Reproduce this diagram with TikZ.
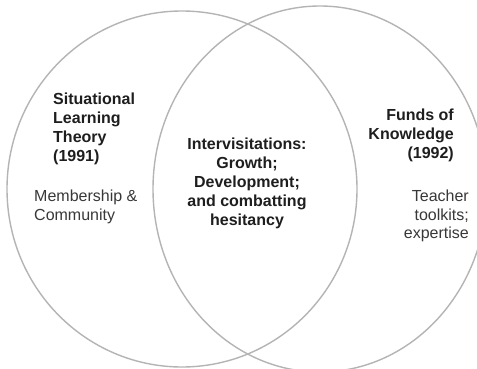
\documentclass[tikz,border=0pt]{standalone}
\usepackage{fontspec}
\setmainfont{Liberation Sans}
\definecolor{ringgray}{HTML}{B4B4B4}
\definecolor{boldtext}{HTML}{1E1E1E}
\definecolor{plaintext}{HTML}{383838}
\begin{document}
\begin{tikzpicture}[x=1pt,y=-1pt,
  ring/.style={draw=ringgray,line width=1.4pt},
  headtext/.style={inner sep=0pt,text=boldtext,font=\fontsize{16}{19}\selectfont\bfseries},
  bodytext/.style={inner sep=0pt,text=plaintext,font=\fontsize{16}{18.5}\selectfont}]
\useasboundingbox (0,0) rectangle (477,369);
\clip (0,0) rectangle (477,369);
\fill[white] (0,0) rectangle (477,369);
\draw[ring] (182,189) ellipse [x radius=175pt, y radius=178pt];
\draw[ring] (320,189) ellipse [x radius=167pt, y radius=183pt];
\node[headtext,anchor=north west,align=left] (slt) at (53,93) {Situational\\Learning\\Theory\\(1991)};
\node[bodytext,anchor=north west,align=left] (mem) at (34,190) {Membership \&\\Community};
\node[headtext,anchor=north,align=center] (int) at (247,138) {Intervisitations:\\Growth;\\Development;\\and combatting\\hesitancy};
\node[headtext,anchor=north east,align=right] (fok) at (454,109) {Funds of\\Knowledge\\(1992)};
\node[bodytext,anchor=north east,align=right] (tea) at (469,190) {Teacher\\toolkits;\\expertise};
\end{tikzpicture}
\end{document}
